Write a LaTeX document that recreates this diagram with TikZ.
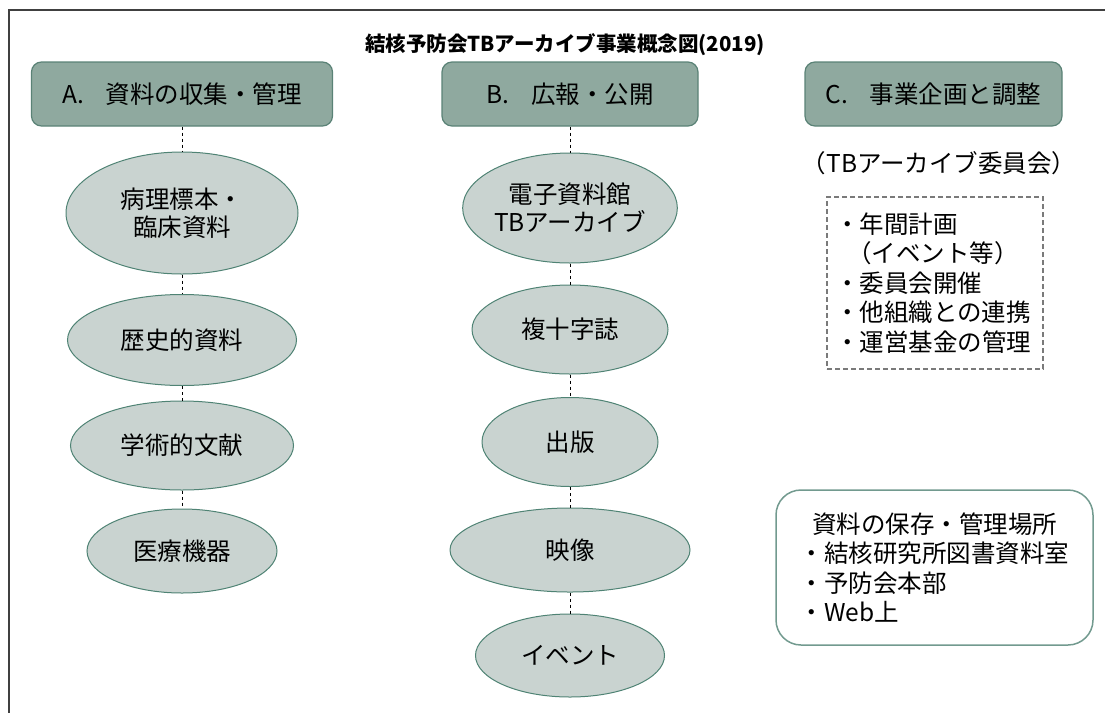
\documentclass[tikz,border=0pt]{standalone}
\usepackage{fontspec}
\setmainfont{Noto Sans CJK JP}
\usetikzlibrary{shapes.geometric}
\definecolor{hdrfill}{HTML}{8FA99F}
\definecolor{hdrline}{HTML}{5A8276}
\definecolor{ellfill}{HTML}{C9D3D0}
\definecolor{ellline}{HTML}{4F8374}
\definecolor{boxline}{HTML}{7A7A7A}
\definecolor{rbline}{HTML}{729A8F}
\definecolor{frameline}{HTML}{404040}
\begin{document}
\begin{tikzpicture}[x=1pt,y=-1pt,
  hdr/.style={draw=hdrline, fill=hdrfill, line width=1.2pt, rounded corners=10pt, inner sep=0pt, minimum height=64pt, font=\fontsize{24.5}{28}\selectfont},
  ell/.style={ellipse, draw=ellline, fill=ellfill, line width=1pt, inner sep=0pt, align=center, font=\fontsize{24.5}{28}\selectfont},
  conn/.style={black, line width=0.9pt, dash pattern=on 3pt off 3pt},
  dbox/.style={draw=boxline, line width=1.2pt, dash pattern=on 5pt off 3pt, minimum width=216pt, minimum height=172pt, text width=200pt, inner xsep=8pt, align=left, font=\fontsize{24.5}{29.5}\selectfont},
  rbox/.style={draw=rbline, line width=1.5pt, rounded corners=25pt, fill=white, minimum width=317pt, minimum height=155pt, text width=270pt, inner sep=0pt, align=left, font=\fontsize{24.5}{29.5}\selectfont},
  plain/.style={inner sep=0pt, font=\fontsize{24.5}{28}\selectfont}
]
\useasboundingbox (0,0) rectangle (1105,713);
\draw[frameline, line width=1.3pt] (1105,10) -- (9,10) -- (9,713);

\node[inner sep=0pt, font=\fontsize{20.5}{24}\selectfont\bfseries] (title) at (565,45) {結核予防会TBアーカイブ事業概念図(2019)};

\node[hdr, minimum width=301pt] (hA) at (182,94) {A.\hspace{0.9em}資料の収集・管理};
\node[hdr, minimum width=256pt] (hB) at (570,94) {B.\hspace{0.9em}広報・公開};
\node[hdr, minimum width=257pt] (hC) at (933.5,94) {C.\hspace{0.9em}事業企画と調整};

\node[ell, minimum width=232pt, minimum height=122pt] (a1) at (182,213) {病理標本・\\臨床資料};
\node[ell, minimum width=229pt, minimum height=91pt] (a2) at (182,340) {歴史的資料};
\node[ell, minimum width=223pt, minimum height=89pt] (a3) at (182,445.5) {学術的文献};
\node[ell, minimum width=190pt, minimum height=84pt] (a4) at (182,551) {医療機器};

\node[ell, minimum width=207pt, minimum height=110pt] (b1) at (570,208) {電子資料館\\TBアーカイブ};
\node[ell, minimum width=196pt, minimum height=89pt] (b2) at (570,329.5) {複十字誌};
\node[ell, minimum width=176pt, minimum height=89pt] (b3) at (570,442) {出版};
\node[ell, minimum width=240pt, minimum height=84pt] (b4) at (570,550) {映像};
\node[ell, minimum width=189pt, minimum height=83pt] (b5) at (570,655.5) {イベント};

\draw[conn] (hA) -- (a1);
\draw[conn] (a1) -- (a2);
\draw[conn] (a2) -- (a3);
\draw[conn] (a3) -- (a4);
\draw[conn] (hB) -- (b1);
\draw[conn] (b1) -- (b2);
\draw[conn] (b2) -- (b3);
\draw[conn] (b3) -- (b4);
\draw[conn] (b4) -- (b5);

\node[plain] (cmt) at (939,163) {（TBアーカイブ委員会）};

\node[dbox] (plan) at (935,283) {・年間計画\\\hspace*{0.5em}（イベント等）\\・委員会開催\\・他組織との連携\\・運営基金の管理};

\node[rbox] (store) at (934.5,567.5) {\makebox[270pt]{資料の保存・管理場所}\\・結核研究所図書資料室\\・予防会本部\\・Web上};
\end{tikzpicture}
\end{document}
